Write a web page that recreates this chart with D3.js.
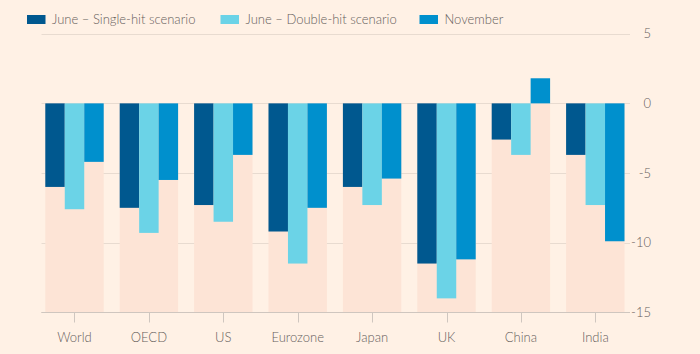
<!DOCTYPE html>
<html>
<head>
<meta charset="utf-8">
<script src="https://cdn.jsdelivr.net/npm/d3@7"></script>
<style>
  html, body { margin: 0; padding: 0; background: #fff1e5; }
  svg { display: block; font-family: Lato, "Open Sans", sans-serif; }
</style>
</head>
<body>
<div id="chart-area"></div>
<script>
const width = 700, height = 354;

// Data
const regions = ["World", "OECD", "US", "Eurozone", "Japan", "UK", "China", "India"];
const seriesNames = ["June – Single-hit scenario", "June – Double-hit scenario", "November"];
const singleHit = [-6.0, -7.5, -7.3, -9.2, -6.0, -11.5, -2.6, -3.7];
const doubleHit = [-7.6, -9.3, -8.5, -11.5, -7.3, -14.0, -3.7, -7.3];
const november  = [-4.2, -5.5, -3.7, -7.5, -5.4, -11.2, 1.8, -9.9];
const yTicks = [5, 0, -5, -10, -15];

const colors = ["#00588f", "#6bd3e7", "#0090cd"];
const series = [singleHit, doubleHit, november];

const data = regions.map((r, i) => ({
    region: r,
    values: series.map((s, k) => ({ key: seriesNames[k], value: s[i], k: k }))
}));

const step = 74.4;
const x = d3.scaleBand()
    .domain(regions)
    .range([74.5 - step / 2, 74.5 + step * 7.5])
    .paddingInner(0.215)
    .paddingOuter(0.1075);

const xInner = d3.scaleBand()
    .domain(d3.range(3))
    .range([0, x.bandwidth()]);

const y = d3.scaleLinear()
    .domain([-15, 5])
    .range([312.3, 33.7]);

const svg = d3.select("#chart-area").append("svg")
    .attr("width", width)
    .attr("height", height);

// grid
svg.append("g")
    .selectAll("line")
    .data(yTicks)
    .enter().append("line")
    .attr("x1", 41.5)
    .attr("x2", 630)
    .attr("y1", d => Math.round(y(d)) + 0.5)
    .attr("y2", d => Math.round(y(d)) + 0.5)
    .attr("stroke", d => d === -15 ? "#cfc6bf" : "#e8dbd0")
    .attr("stroke-width", 1);

// y labels on the right
svg.append("g")
    .selectAll("text")
    .data(yTicks)
    .enter().append("text")
    .attr("x", 651)
    .attr("y", d => y(d))
    .attr("dy", "0.35em")
    .attr("text-anchor", "end")
    .attr("fill", "#66605c")
    .style("font-size", "13px")
    .style("font-weight", 300)
    .text(d => d);

// background bands
svg.append("g")
    .selectAll("rect")
    .data(regions)
    .enter().append("rect")
    .attr("x", d => x(d))
    .attr("width", x.bandwidth())
    .attr("y", y(0))
    .attr("height", y(-15) - y(0))
    .attr("fill", "#fde4d6");

// bars
const groups = svg.append("g")
    .selectAll("g")
    .data(data)
    .enter().append("g")
    .attr("transform", d => `translate(${x(d.region)},0)`);

groups.selectAll("rect")
    .data(d => d.values)
    .enter().append("rect")
    .attr("x", d => xInner(d.k))
    .attr("width", xInner.bandwidth())
    .attr("y", d => y(Math.max(0, d.value)))
    .attr("height", d => Math.abs(y(d.value) - y(0)))
    .attr("fill", d => colors[d.k]);

// x axis
const xAxis = svg.append("g")
    .attr("transform", `translate(0,${Math.round(y(-15)) + 0.5})`);
xAxis.append("line")
    .attr("x1", 41.5).attr("x2", 630)
    .attr("stroke", "#cfc6bf");
xAxis.selectAll("line.tick")
    .data(regions)
    .enter().append("line")
    .attr("class", "tick")
    .attr("x1", d => Math.round(x(d) + x.bandwidth() / 2) + 0.5)
    .attr("x2", d => Math.round(x(d) + x.bandwidth() / 2) + 0.5)
    .attr("y1", 0).attr("y2", 10)
    .attr("stroke", "#cfc6bf");
xAxis.selectAll("text")
    .data(regions)
    .enter().append("text")
    .attr("x", d => x(d) + x.bandwidth() / 2)
    .attr("y", 25)
    .attr("dy", "0.35em")
    .attr("text-anchor", "middle")
    .attr("fill", "#66605c")
    .style("font-size", "13px")
    .style("font-weight", 300)
    .text(d => d);

// legend
const legendX = [27, 220.5, 419.5];
const legend = svg.append("g")
    .selectAll("g")
    .data(seriesNames)
    .enter().append("g")
    .attr("transform", (d, i) => `translate(${legendX[i]},15)`);
legend.append("rect")
    .attr("width", 18.5)
    .attr("height", 9)
    .attr("fill", (d, i) => colors[i]);
legend.append("text")
    .attr("x", 25)
    .attr("y", 4.5)
    .attr("dy", "0.35em")
    .attr("fill", "#66605c")
    .style("font-size", "13px")
    .style("font-weight", 300)
    .text(d => d);
</script>
</body>
</html>
